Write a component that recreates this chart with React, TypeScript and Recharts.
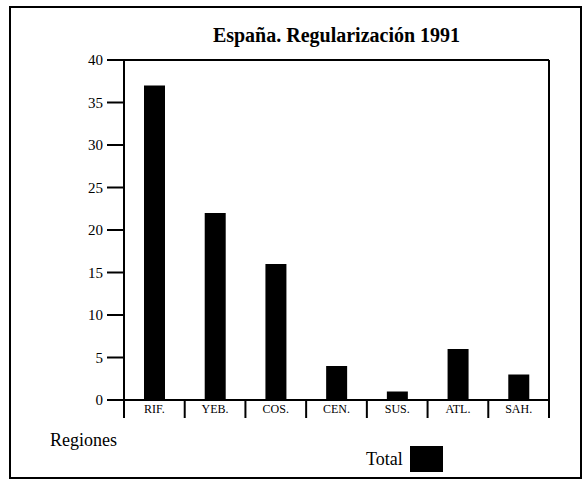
import React from "react";
import { BarChart, Bar, XAxis, YAxis } from "recharts";

const categories = ["RIF.", "YEB.", "COS.", "CEN.", "SUS.", "ATL.", "SAH."];
const totals = [37, 22, 16, 4, 1, 6, 3];
const yTicks = [0, 5, 10, 15, 20, 25, 30, 35, 40];
const title = "España. Regularización 1991";
const xTitle = "Regiones";
const seriesName = "Total";

const data = categories.map((c, i) => ({ cat: c, total: totals[i] }));

const W = 587;
const H = 481;
const XH = 81;
const M = { top: 59, right: 37, bottom: 0, left: 0 };
const YW = 124;
const FONT = '"Liberation Serif", "Times New Roman", serif';
const BW = (W - M.left - YW - M.right - 1) / categories.length;

const CatTick = (props: any) => {
  const { x, y, payload, index } = props;
  const left = x - BW / 2;
  const right = x + BW / 2;
  return (
    <g>
      <line x1={left} y1={y} x2={left} y2={y + 18} stroke="#000" strokeWidth={2} />
      {index === categories.length - 1 && (
        <line x1={right} y1={y} x2={right} y2={y + 18} stroke="#000" strokeWidth={2} />
      )}
      <text
        x={x}
        y={y + 13}
        textAnchor="middle"
        fontFamily={FONT}
        fontSize={12}
        fill="#000"
      >
        {payload.value}
      </text>
    </g>
  );
};

export default function App() {
  return (
    <div style={{ position: "absolute", left: 0, top: 0, width: W, height: H, background: "#fff" }}>
      <div
        style={{
          position: "absolute",
          left: 9,
          top: 6,
          width: 573,
          height: 473,
          border: "2px solid #000",
          boxSizing: "border-box",
        }}
      />
      <div
        style={{
          position: "absolute",
          left: YW,
          width: W - YW - M.right - 1,
          top: 22,
          textAlign: "center",
          fontFamily: FONT,
          fontWeight: "bold",
          fontSize: 20,
          lineHeight: "26px",
        }}
      >
        {title}
      </div>
      <div
        style={{
          position: "absolute",
          left: 50,
          top: 428,
          fontFamily: FONT,
          fontSize: 18,
          lineHeight: "24px",
        }}
      >
        {xTitle}
      </div>
      <div
        style={{
          position: "absolute",
          left: 366,
          top: 446,
          display: "flex",
          alignItems: "center",
          fontFamily: FONT,
          fontSize: 18,
        }}
      >
        <span style={{ marginRight: 7 }}>{seriesName}</span>
        <span style={{ display: "inline-block", width: 33, height: 26, background: "#000" }} />
      </div>
      <div style={{ position: "absolute", left: 0, top: 0 }}>
        <BarChart width={W} height={H} data={data} margin={M}>
          <XAxis
            dataKey="cat"
            axisLine={{ stroke: "#000", strokeWidth: 2 }}
            tickLine={false}
            tickSize={0}
            tickMargin={0}
            height={XH}
            tick={<CatTick />}
            interval={0}
          />
          <XAxis
            xAxisId="top"
            dataKey="cat"
            orientation="top"
            height={1}
            tick={false}
            tickLine={false}
            axisLine={{ stroke: "#000", strokeWidth: 2 }}
          />
          <YAxis
            width={YW}
            domain={[0, 40]}
            ticks={yTicks}
            interval={0}
            tickSize={17}
            tickMargin={4}
            axisLine={{ stroke: "#000", strokeWidth: 2 }}
            tickLine={{ stroke: "#000", strokeWidth: 2 }}
            tick={{ fill: "#000", fontFamily: FONT, fontSize: 15 }}
          />
          <YAxis
            yAxisId="right"
            orientation="right"
            width={1}
            domain={[0, 40]}
            tick={false}
            tickLine={false}
            axisLine={{ stroke: "#000", strokeWidth: 2 }}
          />
          <Bar dataKey="total" name={seriesName} fill="#000" barSize={21} isAnimationActive={false} />
        </BarChart>
      </div>
    </div>
  );
}
